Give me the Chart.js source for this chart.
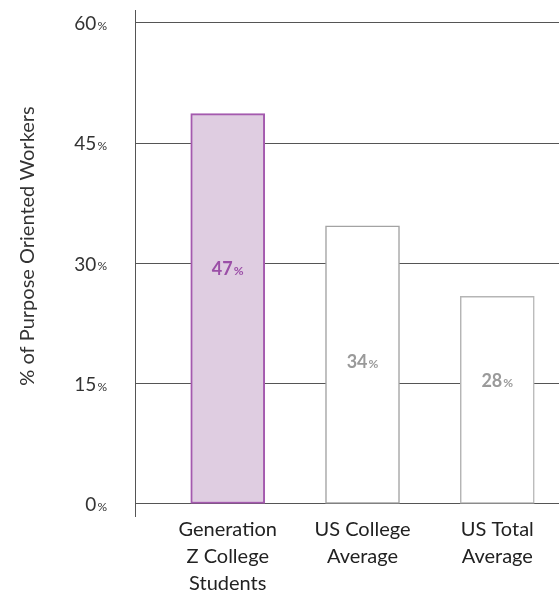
<!DOCTYPE html>
<html>
<head>
<meta charset="utf-8">
<script src="https://cdn.jsdelivr.net/npm/chart.js@4"></script>
<style>
  html, body { margin: 0; padding: 0; background: #fff; }
  #wrap { width: 559px; height: 594px; position: relative; }
</style>
</head>
<body>
<div id="wrap"><canvas id="chart"></canvas></div>
<script>
const categories = [
  ['Generation', 'Z College', 'Students'],
  ['US College', 'Average'],
  ['US Total', 'Average'],
]
const values = [48.7, 34.7, 25.9]
const valueLabels = ['47', '34', '28']
const yTicks = [0, 15, 30, 45, 60]
const yTitle = '% of Purpose Oriented Workers'

const FONT = 'Lato, "DejaVu Sans", sans-serif'
const fills = ['#dfcde1', '#ffffff', '#ffffff']
const borders = ['#a45aae', '#a3a3a3', '#b5b5b5']
const labelColors = ['#9b4fa7', '#9a9a9a', '#9a9a9a']
const labelLift = [0.6, 0.51, 0.59]

// y tick labels with a small percent sign, plus the rotated axis title
const textPlugin = {
  id: 'texts',
  afterDraw(chart) {
    const ctx = chart.ctx
    const y = chart.scales.y
    ctx.save()
    ctx.textBaseline = 'middle'
    y.ticks.forEach(t => {
      const py = y.getPixelForValue(t.value)
      const num = String(t.value)
      ctx.font = '19px ' + FONT
      const w1 = ctx.measureText(num).width
      ctx.font = '12px ' + FONT
      const w2 = ctx.measureText('%').width
      const right = 107
      ctx.fillStyle = '#333'
      ctx.textAlign = 'left'
      ctx.font = '19px ' + FONT
      ctx.fillText(num, right - w1 - w2 - 1, py + 1)
      ctx.font = '12px ' + FONT
      ctx.fillText('%', right - w2, py + 3)
    })

    ctx.translate(28, 246)
    ctx.rotate(-Math.PI / 2)
    ctx.textAlign = 'center'
    ctx.font = '20px ' + FONT
    ctx.fillStyle = '#333'
    ctx.fillText(yTitle, 0, 0)
    ctx.restore()
  },
  afterDatasetsDraw(chart) {
    const ctx = chart.ctx
    const meta = chart.getDatasetMeta(0)
    ctx.save()
    ctx.textBaseline = 'middle'
    ctx.textAlign = 'left'
    meta.data.forEach((bar, i) => {
      const py = bar.base - (bar.base - bar.y) * labelLift[i]
      ctx.font = 'bold 18px ' + FONT
      const w1 = ctx.measureText(valueLabels[i]).width
      ctx.font = 'bold 12px ' + FONT
      const w2 = ctx.measureText('%').width
      const left = bar.x - (w1 + w2 + 1) / 2
      ctx.fillStyle = labelColors[i]
      ctx.font = 'bold 18px ' + FONT
      ctx.fillText(valueLabels[i], left, py)
      ctx.font = 'bold 12px ' + FONT
      ctx.fillText('%', left + w1 + 1, py + 2)
    })
    ctx.restore()
  }
}

new Chart(document.getElementById('chart'), {
  type: 'bar',
  data: {
    datasets: [{
      data: values.map((v, i) => ({ x: i, y: v })),
      backgroundColor: fills,
      borderColor: borders,
      borderWidth: [2, 1.5, 1.5],
      borderSkipped: false,
      barThickness: 74,
    }]
  },
  plugins: [textPlugin],
  options: {
    responsive: true,
    maintainAspectRatio: false,
    animation: false,
    layout: { padding: { left: 135, top: 10, right: 0, bottom: 0 } },
    plugins: { legend: false, tooltip: { enabled: false } },
    scales: {
      x: {
        type: 'linear',
        offset: false,
        min: -0.688,
        max: 2.458,
        grid: { display: false, drawTicks: false },
        border: { display: false },
        afterBuildTicks: s => { s.ticks = categories.map((c, i) => ({ value: i })) },
        afterFit: s => { s.height = 78 },
        ticks: {
          padding: 0,
          color: '#222',
          font: { family: FONT, size: 20, lineHeight: 1.35 },
          maxRotation: 0,
          autoSkip: false,
          callback: v => categories[v],
        }
      },
      y: {
        min: -1.5,
        max: 61.62,
        afterBuildTicks: s => { s.ticks = yTicks.map(v => ({ value: v })) },
        afterFit: s => { s.width = 0 },
        ticks: { display: false },
        grid: { color: '#555', lineWidth: 1, drawTicks: false },
        border: { color: '#555', width: 1 },
      }
    }
  }
})
</script>
</body>
</html>
